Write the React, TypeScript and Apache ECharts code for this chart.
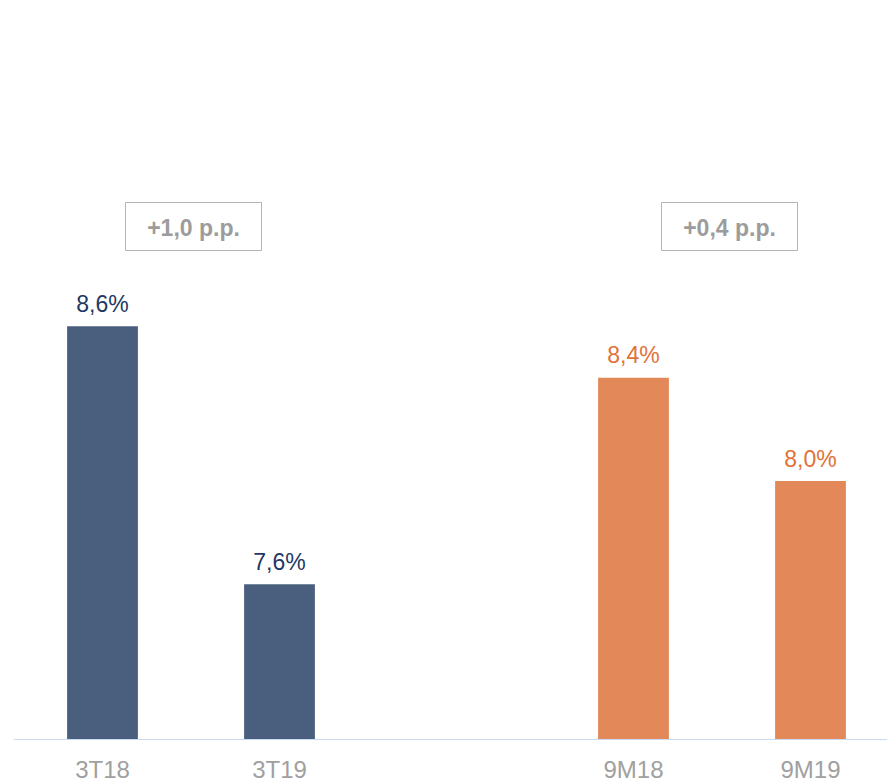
import React, { useEffect, useRef } from "react";
import * as echarts from "echarts";

const categories = ["3T18", "3T19", "", "9M18", "9M19"];
const values: (number | string)[] = [8.6, 7.6, "-", 8.4, 8.0];
const barColors = ["#4a5f7e", "#4a5f7e", "#4a5f7e", "#e38959", "#e38959"];
const labelColors = ["#1f3864", "#1f3864", "#1f3864", "#e0723a", "#e0723a"];
const deltaLabels = ["+1,0 p.p.", "+0,4 p.p."];

export default function App() {
  const ref = useRef<HTMLDivElement>(null);
  useEffect(() => {
    if (!ref.current) return;
    const chart = echarts.init(ref.current, undefined, { renderer: "svg" });
    const font = "'Liberation Sans', Arial, sans-serif";
    const boxes = [
      { x: 125, label: deltaLabels[0] },
      { x: 661, label: deltaLabels[1] },
    ];
    chart.setOption({
      animation: false,
      backgroundColor: "#ffffff",
      grid: {
        left: 14,
        right: -12,
        top: 29,
        bottom: 45,
        containLabel: false,
        outerBoundsMode: "none",
      },
      xAxis: {
        type: "category",
        data: categories,
        axisLine: { show: true, lineStyle: { color: "#c9d9ef", width: 1 } },
        axisTick: { show: false },
        axisLabel: { color: "#a0a0a0", fontSize: 24, fontFamily: font, margin: 18 },
      },
      yAxis: {
        type: "value",
        min: 7,
        max: 7 + 710 / 258,
        show: false,
        splitLine: { show: false },
      },
      series: [
        {
          type: "bar",
          barWidth: "40%",
          data: values.map((v, i) => ({
            value: v,
            itemStyle: { color: barColors[i] },
            label: { color: labelColors[i] },
          })),
          label: {
            show: true,
            position: "top",
            distance: 11,
            fontSize: 23,
            fontFamily: font,
            formatter: (p: any) => Number(p.value).toFixed(1).replace(".", ",") + "%",
          },
        },
      ],
      graphic: boxes.map((b) => ({
        type: "group",
        left: b.x,
        top: 202,
        children: [
          {
            type: "rect",
            shape: { x: 0, y: 0, width: 136, height: 48 },
            style: { fill: "#ffffff", stroke: "#b4b4b4", lineWidth: 1 },
          },
          {
            type: "text",
            x: 68,
            y: 25,
            style: {
              text: b.label,
              align: "center",
              verticalAlign: "middle",
              fill: "#9c9c9c",
              font: `bold 23px ${font}`,
            },
          },
        ],
      })),
    });
    return () => chart.dispose();
  }, []);
  return (
    <div
      ref={ref}
      style={{ position: "fixed", left: 0, top: 0, width: 887, height: 784 }}
    />
  );
}
